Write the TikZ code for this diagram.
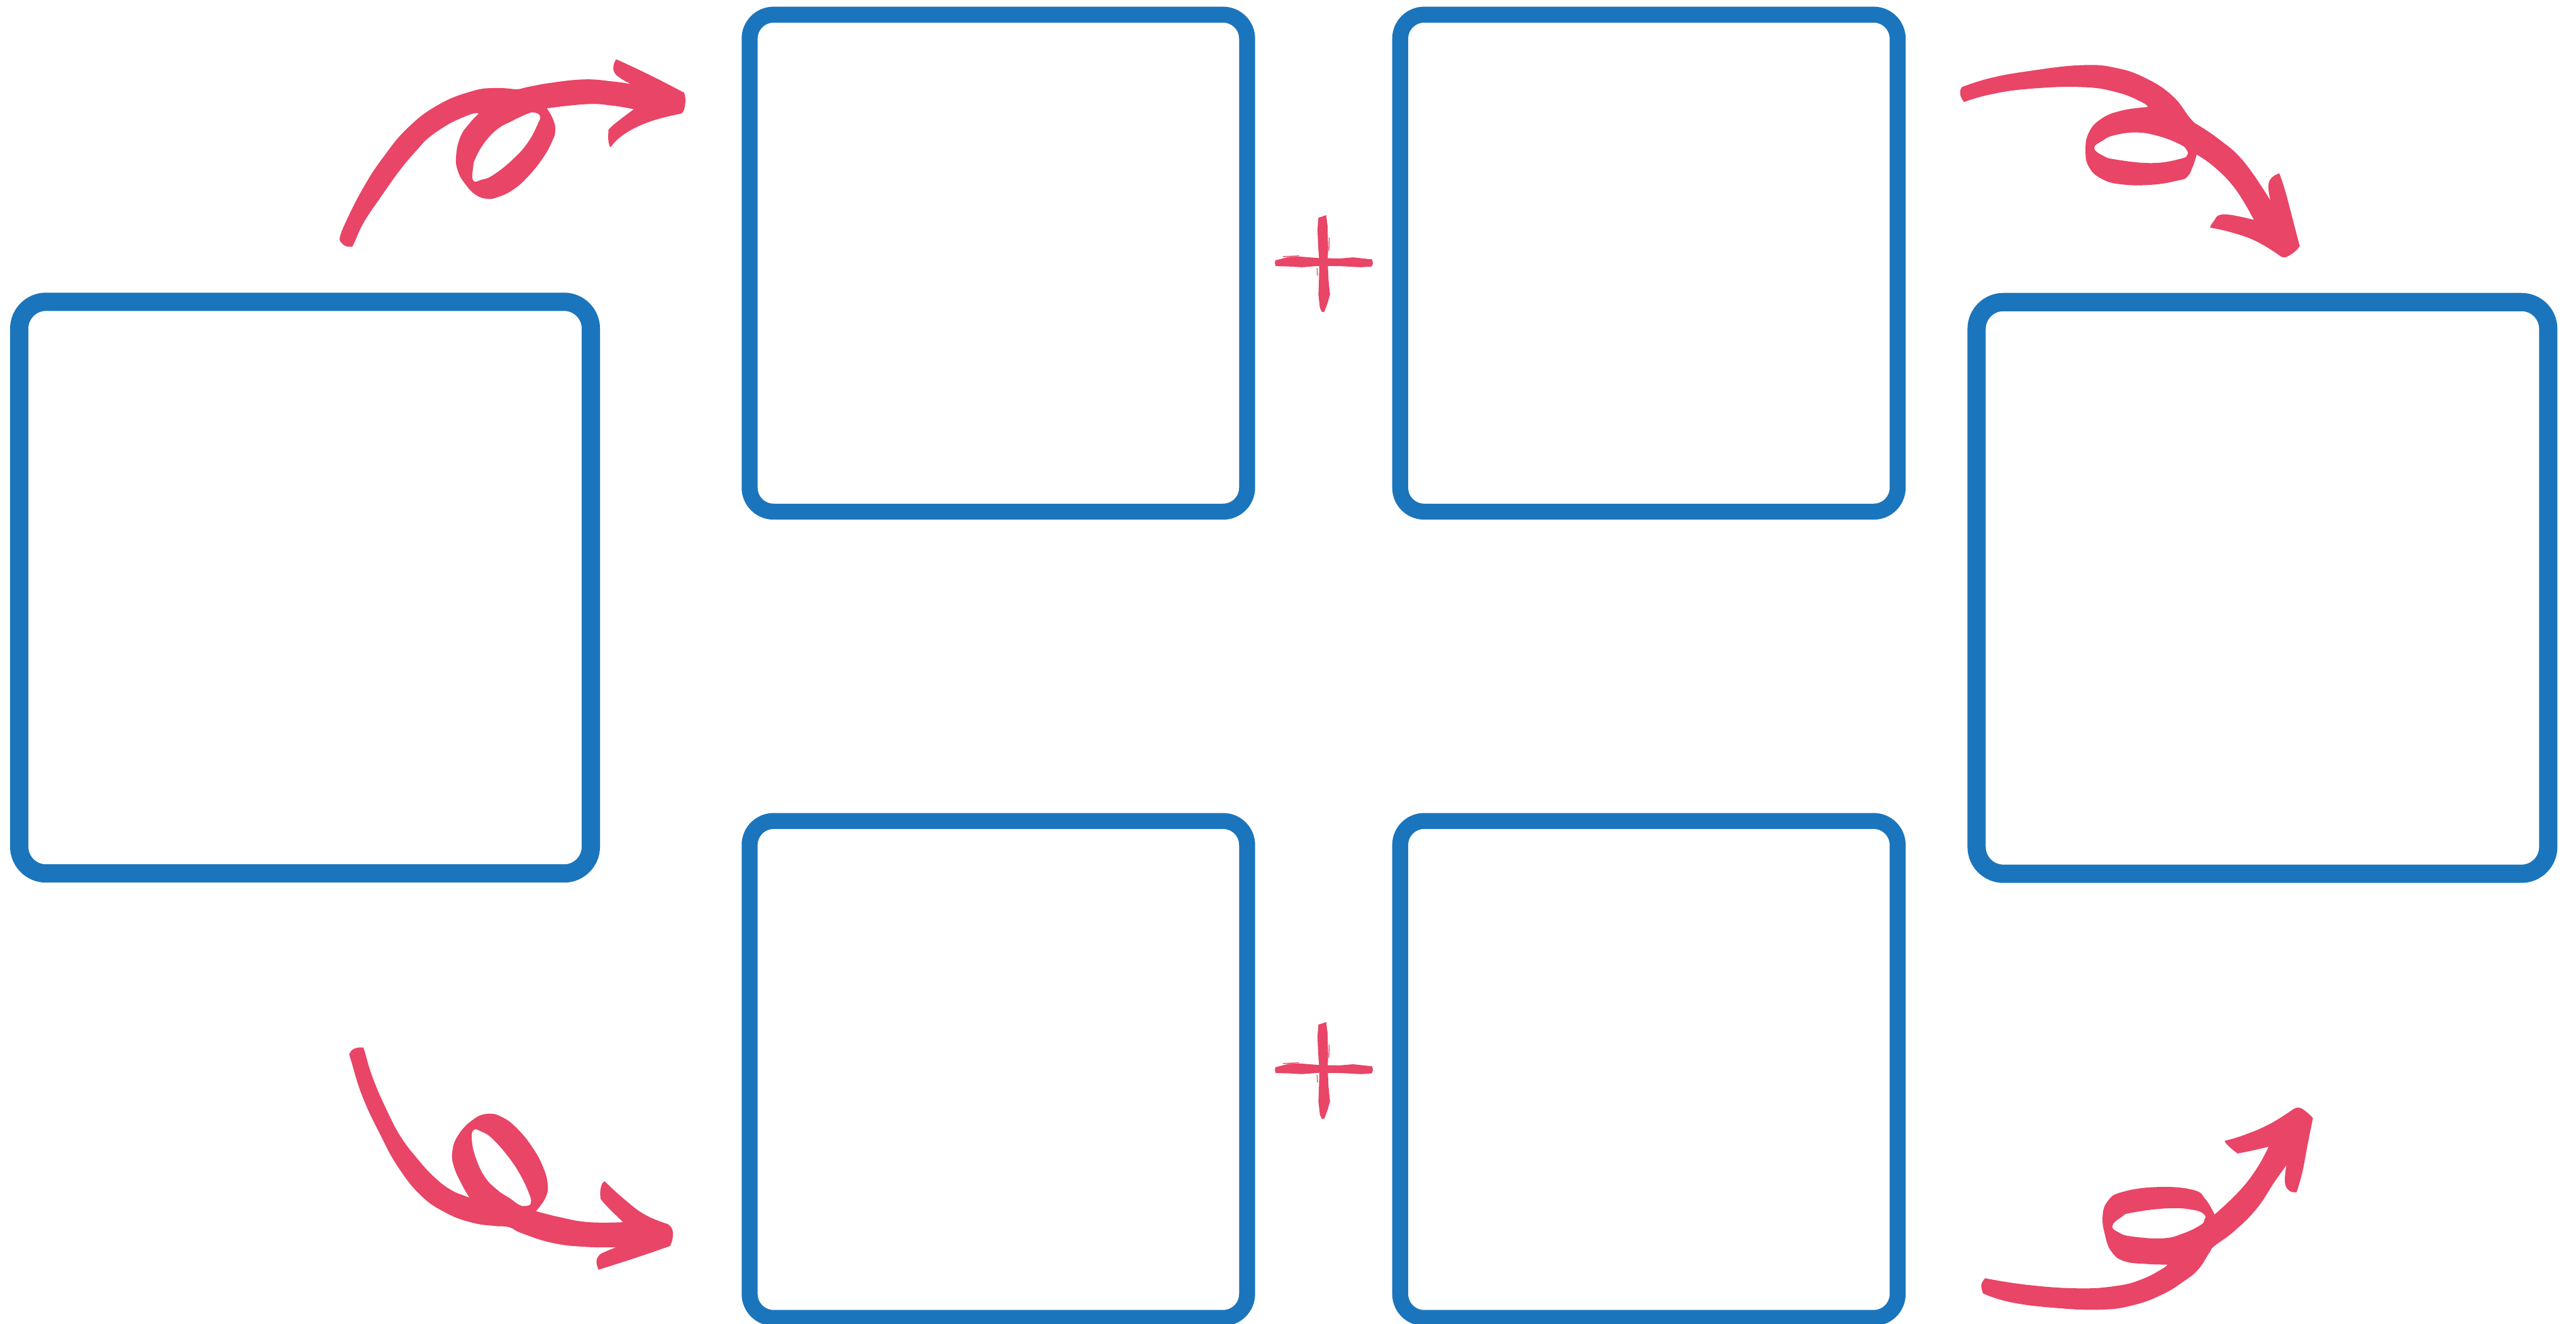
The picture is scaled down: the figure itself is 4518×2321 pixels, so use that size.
\documentclass[tikz,border=0pt]{standalone}
\definecolor{boxblue}{RGB}{27,117,188}
\definecolor{brushred}{RGB}{232,69,103}
\tikzset{
  bigbox/.style={draw=boxblue, line width=0.32cm, rounded corners=0.47cm,
    minimum width=10.02cm, minimum height=10.02cm, inner sep=0pt, fill=white},
  smallbox/.style={draw=boxblue, line width=0.28cm, rounded corners=0.42cm,
    minimum width=8.72cm, minimum height=8.71cm, inner sep=0pt, fill=white},
  brush/.style={fill=brushred, draw=none, even odd rule},
}
\begin{document}
\begin{tikzpicture}[x=0.01cm,y=-0.01cm]
\useasboundingbox[fill=white] (0,0) rectangle (4518,2321);

% boxes
\node[bigbox] (left) at (535,1030.5) {};
\node[smallbox] (tl) at (1751,461.5) {};
\node[smallbox] (tr) at (2892,461.5) {};
\node[smallbox] (bl) at (1751,1875.5) {};
\node[smallbox] (br) at (2892,1875.5) {};
\node[bigbox] (right) at (3968,1031) {};

% plus signs
\foreach \py in {350,1765}{
\begin{scope}[shift={(2200,\py)}, xscale=0.3333, yscale=0.3333]
\fill[brushred] (337,95) -- (332,160) -- (336,250) -- (342,330) -- (340,420) -- (337,500) -- (345,570) -- (356,592) -- (368,590) -- (385,545) -- (398,500) -- (390,420) -- (386,330) -- (388,250) -- (385,140) -- (378,82) -- (355,90) -- cycle;
\fill[brushred] (110,320) -- (180,302) -- (240,300) -- (340,308) -- (450,310) -- (520,304) -- (620,315) -- (624,335) -- (618,352) -- (560,356) -- (450,350) -- (340,349) -- (250,356) -- (180,352) -- (112,350) -- (108,335) -- cycle;
\draw[brushred, line width=0.4pt] (150,300) -- (235,296);
\draw[brushred, line width=0.4pt] (330,360) -- (332,400);
\draw[brushred, line width=0.4pt] (392,270) -- (394,200);
\end{scope}
}

% arrow top-left
\begin{scope}[shift={(560,60)}, xscale=0.446, yscale=0.3333, tension=0.75]
\fill[brush] (130,1118) -- plot[smooth] coordinates {(130,1118) (105,1115) (85,1095) (80,1075)}
 -- plot[smooth] coordinates {(80,1075) (100,1000) (170,815) (250,650) (350,490) (470,370) (600,300) (690,283) (770,290)}
 -- (790,288) -- (800,284)
 -- plot[smooth] coordinates {(800,284) (900,258) (1040,238) (1150,248) (1225,262)}
 -- plot[smooth] coordinates {(1225,262) (1185,232) (1160,200) (1158,160) (1168,132)}
 -- plot[smooth] coordinates {(1168,132) (1300,215) (1435,308)}
 -- plot[smooth] coordinates {(1435,308) (1440,350) (1432,405) (1415,420)}
 -- plot[smooth] coordinates {(1415,420) (1300,460) (1200,525) (1145,595)}
 -- plot[smooth] coordinates {(1145,595) (1138,570) (1137,520) (1150,485) (1237,395)}
 -- plot[smooth] coordinates {(1237,395) (1150,375) (1050,368) (895,390)}
 -- plot[smooth] coordinates {(895,390) (920,450) (928,510) (915,565) (880,650) (820,750) (760,820) (700,858) (660,866) (615,845) (575,790) (545,720) (538,640) (555,540) (590,470) (627,418)}
 -- plot[smooth] coordinates {(627,418) (610,416) (560,440) (500,480) (430,545) (390,600) (320,710) (240,860) (175,990) (140,1090) (130,1118)}
 -- cycle
 plot[smooth cycle] coordinates {(605,770) (640,765) (685,740) (760,660) (820,570) (860,470) (868,430) (845,412) (820,418) (760,455) (700,500) (650,570) (615,650) (605,700)};
\end{scope}

% arrow top-right
\begin{scope}[shift={(3400,80)}, xscale=0.446, yscale=0.3333, tension=0.75]
\fill[brush] (100,297) -- plot[smooth] coordinates {(100,297) (88,270) (85,240) (92,218)}
 -- plot[smooth] coordinates {(92,218) (200,172) (350,135) (560,103) (700,118) (820,175) (920,265) (985,375) (1008,408)}
 -- plot[smooth] coordinates {(1008,408) (1100,490) (1200,610) (1305,815)}
 -- plot[smooth] coordinates {(1305,815) (1297,740) (1310,695) (1340,672)}
 -- plot[smooth] coordinates {(1340,672) (1362,760) (1390,900) (1420,1055)}
 -- plot[smooth] coordinates {(1420,1055) (1400,1085) (1365,1113) (1345,1108)}
 -- plot[smooth] coordinates {(1345,1108) (1250,1030) (1150,982) (1068,958)}
 -- plot[smooth] coordinates {(1068,958) (1080,928) (1120,888) (1240,917)}
 -- plot[smooth] coordinates {(1240,917) (1170,760) (1090,645) (1015,573)}
 -- plot[smooth] coordinates {(1015,573) (1000,635) (978,690) (940,710) (840,732) (720,730) (640,700) (592,640) (578,560) (590,460) (640,385) (720,342) (822,323)}
 -- plot[smooth] coordinates {(822,323) (800,298) (700,245) (560,218) (350,228) (200,258) (100,297)}
 -- cycle
 plot[smooth cycle] coordinates {(612,538) (645,500) (690,472) (780,457) (870,478) (950,520) (975,548) (978,575) (950,596) (840,618) (700,600) (645,578)};
\end{scope}

% arrow bottom-left
\begin{scope}[shift={(560,1800)}, xscale=0.446, yscale=0.3333, tension=0.75]
\fill[brush] (118,148) -- plot[smooth] coordinates {(118,148) (128,125) (150,112) (172,112)}
 -- plot[smooth] coordinates {(172,112) (178,130) (210,270) (265,440) (320,580) (385,695) (450,790) (515,858) (575,893) (590,900)}
 -- plot[smooth] coordinates {(590,900) (560,830) (530,740) (523,660) (545,575) (600,495) (660,460) (720,478) (780,540) (840,640) (880,740) (898,830) (890,900) (852,972)}
 -- plot[smooth] coordinates {(852,972) (950,1005) (1060,1030) (1195,1030)}
 -- plot[smooth] coordinates {(1195,1030) (1120,930) (1105,890) (1110,835) (1122,815)}
 -- plot[smooth] coordinates {(1122,815) (1200,910) (1280,990) (1370,1040)}
 -- plot[smooth] coordinates {(1370,1040) (1387,1065) (1390,1110) (1380,1155)}
 -- plot[smooth] coordinates {(1380,1155) (1250,1215) (1098,1280)}
 -- plot[smooth] coordinates {(1098,1280) (1090,1240) (1100,1205) (1125,1185) (1168,1162)}
 -- plot[smooth] coordinates {(1168,1162) (1050,1160) (920,1140) (800,1090) (745,1056) (690,1050) (600,1032) (500,982) (400,890) (310,740) (240,570) (170,370) (125,180) (118,148)}
 -- cycle
 plot[smooth cycle] coordinates {(607,545) (640,555) (680,590) (740,680) (790,780) (825,880) (832,930) (810,945) (785,938) (750,905) (700,860) (650,790) (615,690) (600,600)};
\end{scope}

% arrow bottom-right
\begin{scope}[shift={(3400,1900)}, xscale=0.446, yscale=0.3333, tension=0.75]
\fill[brush] (175,1105) -- plot[smooth] coordinates {(175,1105) (168,1070) (172,1045) (183,1025)}
 -- plot[smooth] coordinates {(183,1025) (350,1060) (550,1078) (700,1065) (800,1030) (880,975) (900,953)}
 -- plot[smooth] coordinates {(900,953) (820,950) (730,935) (680,885) (655,800) (645,700) (665,620) (720,572) (860,545) (1000,560) (1050,610) (1085,690)}
 -- plot[smooth] coordinates {(1085,690) (1180,570) (1250,450) (1298,333)}
 -- plot[smooth] coordinates {(1298,333) (1190,365) (1170,362) (1135,322) (1125,302)}
 -- plot[smooth] coordinates {(1125,302) (1200,272) (1300,215) (1390,140)}
 -- plot[smooth] coordinates {(1390,140) (1415,127) (1445,148) (1472,182)}
 -- plot[smooth] coordinates {(1472,182) (1450,330) (1430,470) (1408,572)}
 -- plot[smooth] coordinates {(1408,572) (1380,565) (1362,520) (1368,430)}
 -- plot[smooth] coordinates {(1368,430) (1320,520) (1250,660) (1160,780) (1085,855) (1065,890) (1020,980) (960,1045) (880,1110) (770,1165) (640,1190) (450,1180) (280,1150) (175,1105)}
 -- cycle
 plot[smooth cycle] coordinates {(683,750) (720,702) (760,680) (900,657) (1000,665) (1045,690) (1045,718) (1030,745) (960,790) (880,815) (760,805) (710,785)};
\end{scope}
\end{tikzpicture}
\end{document}
